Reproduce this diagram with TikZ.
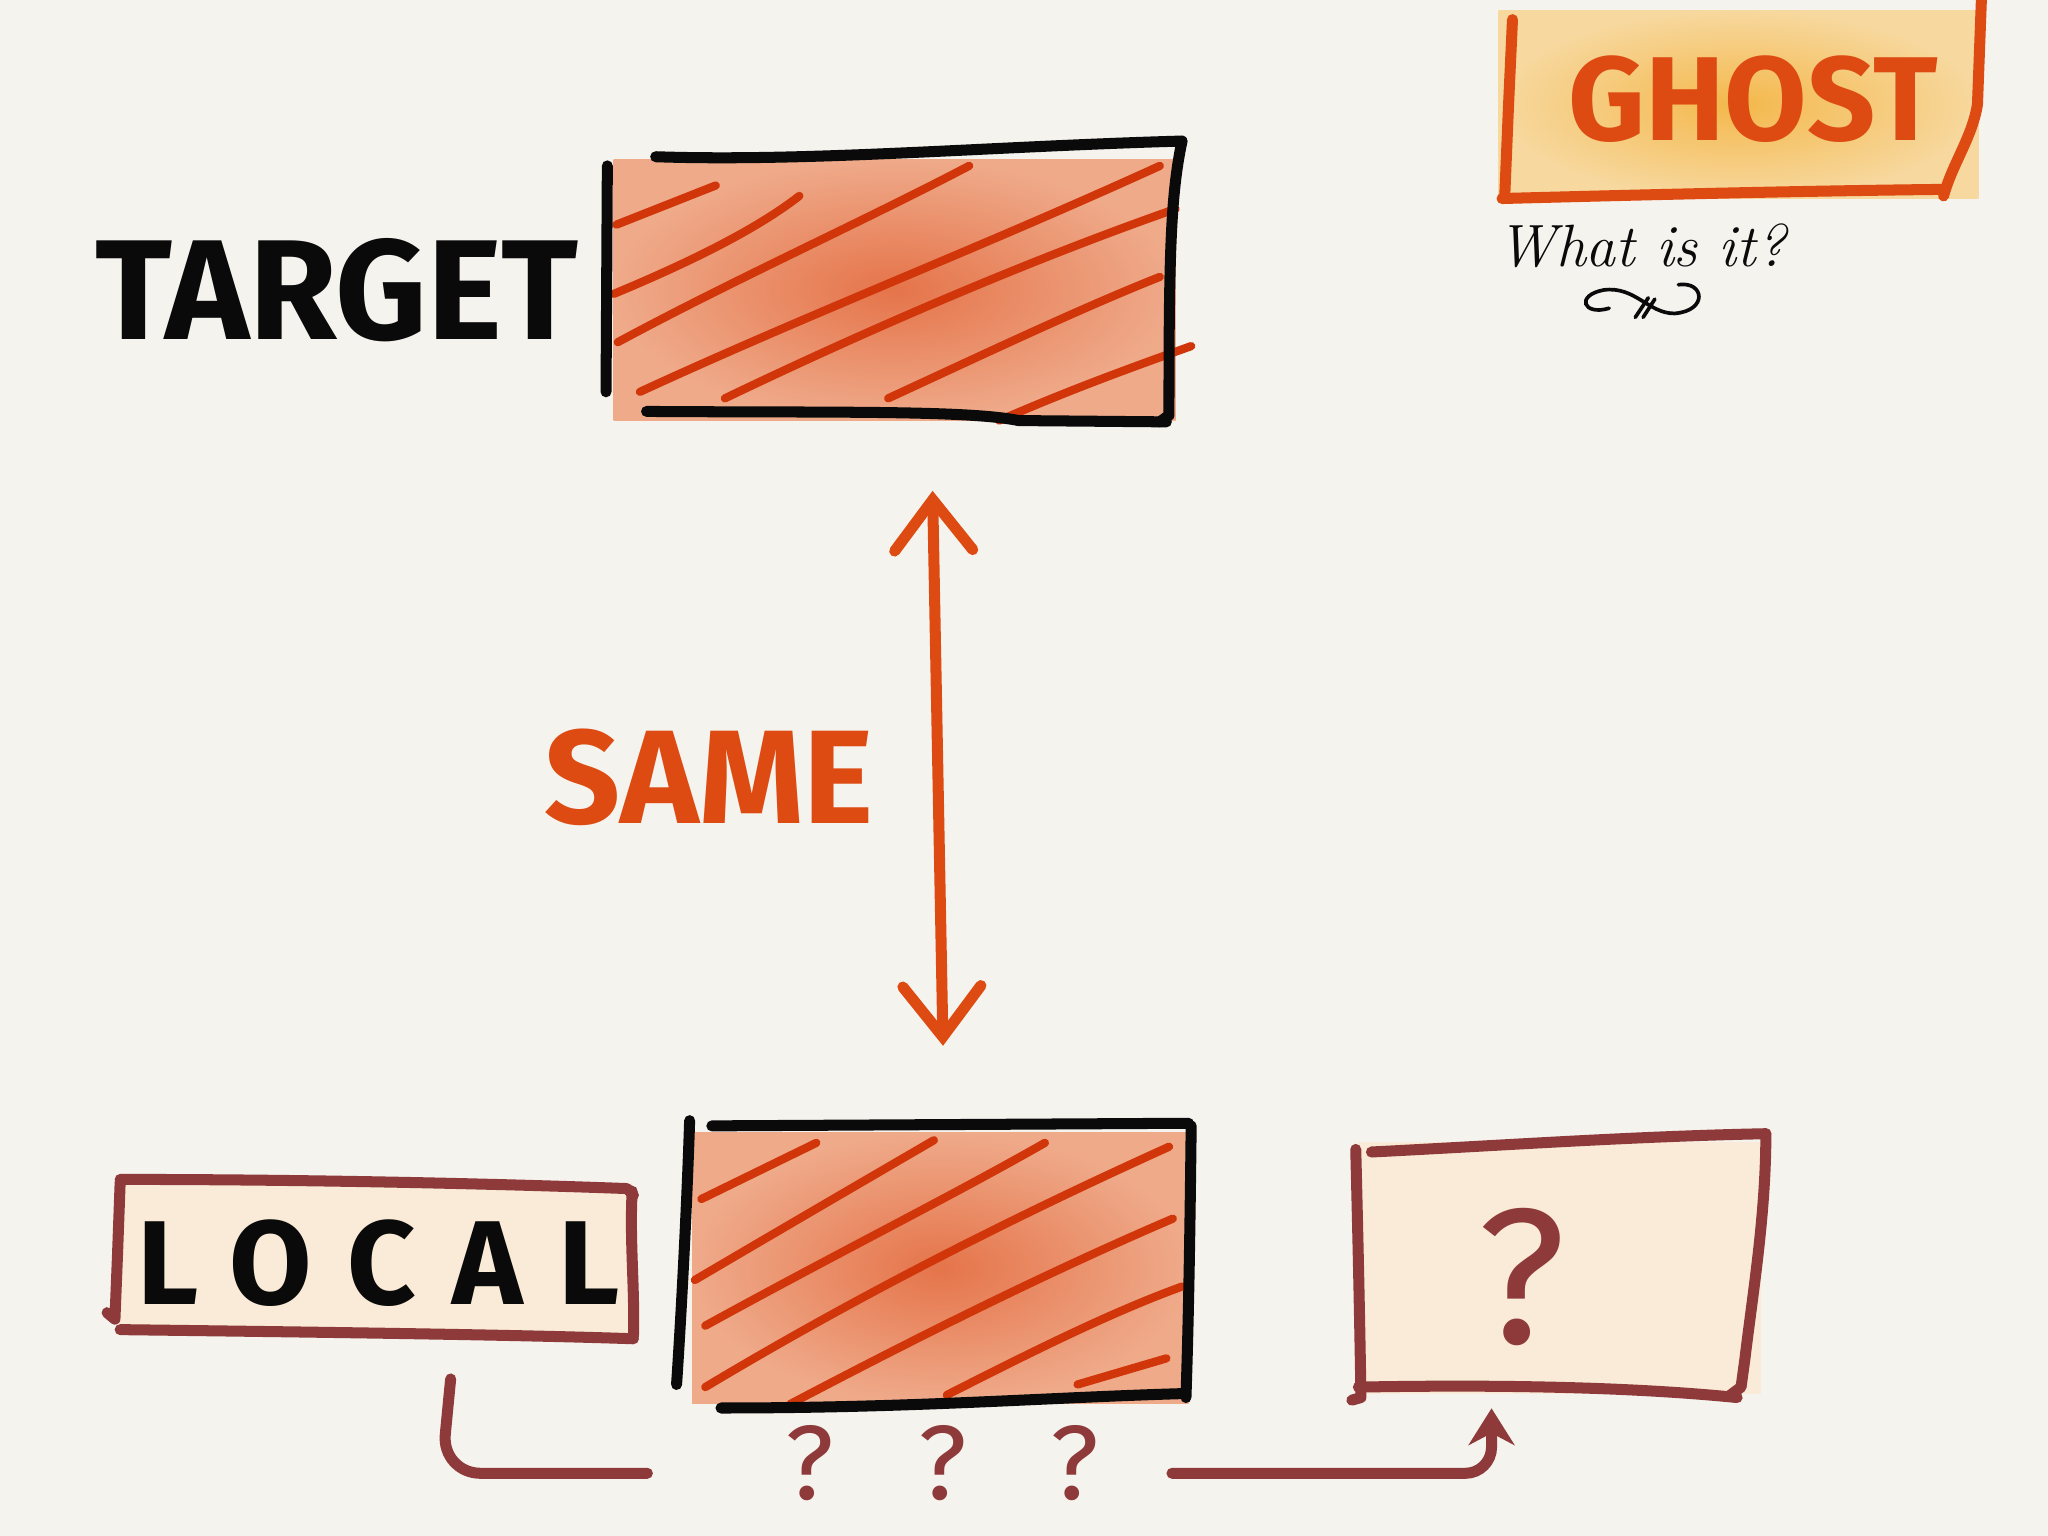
\documentclass[tikz,border=0pt]{standalone}
\usepackage{fontspec}
\newfontfamily\sketchfont{Fira Sans}
\usetikzlibrary{arrows.meta}
\definecolor{bgc}{HTML}{F5F3EE}
\definecolor{ink}{HTML}{0A0A0A}
\definecolor{orng}{HTML}{DD4A12}
\definecolor{hatch}{HTML}{D0360A}
\definecolor{hotin}{HTML}{E5744A}
\definecolor{hotout}{HTML}{EFAA8A}
\definecolor{goldin}{HTML}{F4B84C}
\definecolor{goldout}{HTML}{F7D89E}
\definecolor{maroon}{HTML}{8E3A3A}
\definecolor{peach}{HTML}{FAEBD8}
\tikzset{
  hotbox/.style={shade, shading=radial, inner color=hotin, outer color=hotout, draw=none, inner sep=0pt},
  goldbox/.style={shade, shading=radial, inner color=goldin, outer color=goldout, draw=none, inner sep=0pt},
  peachbox/.style={fill=peach, draw=none, inner sep=0pt},
  inkline/.style={draw=ink, line width=2.4pt, line cap=round, line join=round},
  hatchline/.style={draw=hatch, line width=1.8pt, line cap=round},
  orline/.style={draw=orng, line width=2.4pt, line cap=round, line join=round},
  marline/.style={draw=maroon, line width=2.4pt, line cap=round, line join=round},
  bigcaps/.style={font=\sketchfont\bfseries\fontsize{31}{31}\selectfont, inner sep=0pt},
  midcaps/.style={font=\sketchfont\bfseries\fontsize{26}{26}\selectfont, inner sep=0pt},
  qmark/.style={font=\sketchfont\fontsize{23}{23}\selectfont, text=maroon, inner sep=0pt},
}
\begin{document}
\begin{tikzpicture}[x=0.01cm,y=-0.01cm]
\useasboundingbox (0,0) rectangle (1568,1176);
\fill[bgc] (0,0) rectangle (1568,1176);

% ---------- boxes (fills) ----------
\node[goldbox, minimum width=3.67cm, minimum height=1.44cm] (ghost) at (1331,80) {};
\node[hotbox, minimum width=4.3cm, minimum height=2.0cm] (target) at (685,222) {};
\node[hotbox, minimum width=3.8cm, minimum height=2.07cm] (mid) at (720,971) {};
\node[peachbox, minimum width=3.94cm, minimum height=1.16cm] (local) at (287,964) {};
\node[peachbox, minimum width=3.08cm, minimum height=1.93cm] (qbox) at (1194,971) {};

% ---------- hatching, target ----------
\draw[hatchline] (472,172) -- (548,142);
\draw[hatchline] (470,225) .. controls (530,200) and (580,175) .. (612,150);
\draw[hatchline] (473,262) .. controls (560,215) and (660,170) .. (742,127);
\draw[hatchline] (490,300) .. controls (620,240) and (750,190) .. (888,127);
\draw[hatchline] (555,305) .. controls (680,245) and (800,195) .. (900,160);
\draw[hatchline] (680,305) .. controls (760,268) and (830,235) .. (888,212);
\draw[hatchline] (765,322) .. controls (820,298) and (870,280) .. (912,265);

% ---------- hatching, mid ----------
\draw[hatchline] (537,918) -- (625,875);
\draw[hatchline] (532,980) .. controls (600,940) and (660,905) .. (715,873);
\draw[hatchline] (540,1015) .. controls (640,960) and (730,915) .. (800,875);
\draw[hatchline] (540,1062) .. controls (660,990) and (780,930) .. (895,878);
\draw[hatchline] (605,1075) .. controls (700,1025) and (800,975) .. (898,933);
\draw[hatchline] (725,1068) .. controls (790,1035) and (850,1005) .. (905,985);
\draw[hatchline] (825,1060) -- (893,1040);

% ---------- borders ----------
% ghost
\draw[orline] (1158,15) -- (1155,80) -- (1152,152);
\draw[orline] (1150,152) .. controls (1300,148) and (1400,146) .. (1487,145);
\draw[orline] (1517,0) -- (1514,80) .. controls (1510,105) and (1495,125) .. (1488,150);
% target
\draw[inkline] (465,127) -- (464,300);
\draw[inkline] (502,120) .. controls (620,124) and (760,112) .. (905,108);
\draw[inkline] (905,108) .. controls (896,150) and (895,200) .. (895,318) -- (888,323);
\draw[inkline] (495,315) .. controls (640,316) and (740,314) .. (780,322) -- (893,323);
% mid
\draw[inkline] (528,858) .. controls (526,920) and (522,1000) .. (518,1060);
\draw[inkline] (545,862) -- (910,860);
\draw[inkline] (912,862) .. controls (911,950) and (910,1010) .. (908,1070);
\draw[inkline] (552,1078) .. controls (700,1078) and (800,1070) .. (905,1067);
% local
\draw[marline] (82,1005) -- (88,1010) -- (90,960) -- (92,905);
\draw[marline] (92,903) .. controls (250,903) and (400,907) .. (480,910) -- (485,915);
\draw[marline] (484,912) .. controls (482,950) and (486,985) .. (485,1023);
\draw[marline] (92,1018) .. controls (250,1020) and (400,1022) .. (485,1025);
% qbox
\draw[marline] (1038,880) .. controls (1040,960) and (1041,1010) .. (1042,1070) -- (1035,1072);
\draw[marline] (1050,882) .. controls (1150,877) and (1250,870) .. (1352,868);
\draw[marline] (1352,868) .. controls (1352,930) and (1342,990) .. (1336,1040) -- (1333,1062) -- (1325,1068);
\draw[marline] (1040,1062) .. controls (1150,1060) and (1250,1062) .. (1330,1070);

% ---------- labels ----------
\node[bigcaps, text=ink] (targetlbl) at (258,222) {TARGET};
\node[midcaps, text=orng] (ghostlbl) at (1342,76) {GHOST};
\node[font=\itshape\fontsize{13}{13}\selectfont, text=ink, inner sep=0pt] (whatlbl) at (1257,188) {What is it?};
\node[font=\sketchfont\bfseries\fontsize{29}{29}\selectfont, inner sep=0pt, text=orng] (samelbl) at (543,595) {SAME};
\node[midcaps, text=ink] (locallbl) at (290,967) {\addfontfeatures{LetterSpace=30}LOCAL};
\node[font=\sketchfont\fontsize{42}{42}\selectfont, text=maroon, inner sep=0pt] (qlbl) at (1165,978) {?};
\node[qmark] (q1) at (620,1120) {?};
\node[qmark] (q2) at (722,1120) {?};
\node[qmark] (q3) at (823,1120) {?};

% squiggle under "What is it?"
\draw[ink, line width=0.8pt, line cap=round]
  (1232,236) .. controls (1212,242) and (1206,226) .. (1228,222)
  .. controls (1252,219) and (1262,240) .. (1282,240)
  .. controls (1308,238) and (1305,215) .. (1285,218);
\draw[ink, line width=0.8pt, line cap=round] (1252,243) -- (1262,228);
\draw[ink, line width=0.8pt, line cap=round] (1258,243) -- (1267,229);

% ---------- connectors ----------
\draw[orline, {Straight Barb[length=11pt,width=17pt,line cap=round]}-{Straight Barb[length=11pt,width=17pt,line cap=round]}]
  ([xshift=0.29cm,yshift=-0.53cm]target.south) -- ([xshift=0.02cm,yshift=0.66cm]mid.north);
\draw[marline, rounded corners=0.3cm]
  ([xshift=0.58cm,yshift=-0.33cm]local.south) -- ([xshift=0.51cm,yshift=-0.08cm]local.south |- q1.west) -- ([xshift=-1.05cm,yshift=-0.08cm]q1.west);
\draw[marline, rounded corners=0.2cm, -{Stealth[length=8pt,width=10pt]}]
  ([xshift=0.55cm,yshift=-0.08cm]q3.east) -| ([xshift=-0.52cm,yshift=-0.1cm]qbox.south);
\end{tikzpicture}
\end{document}
